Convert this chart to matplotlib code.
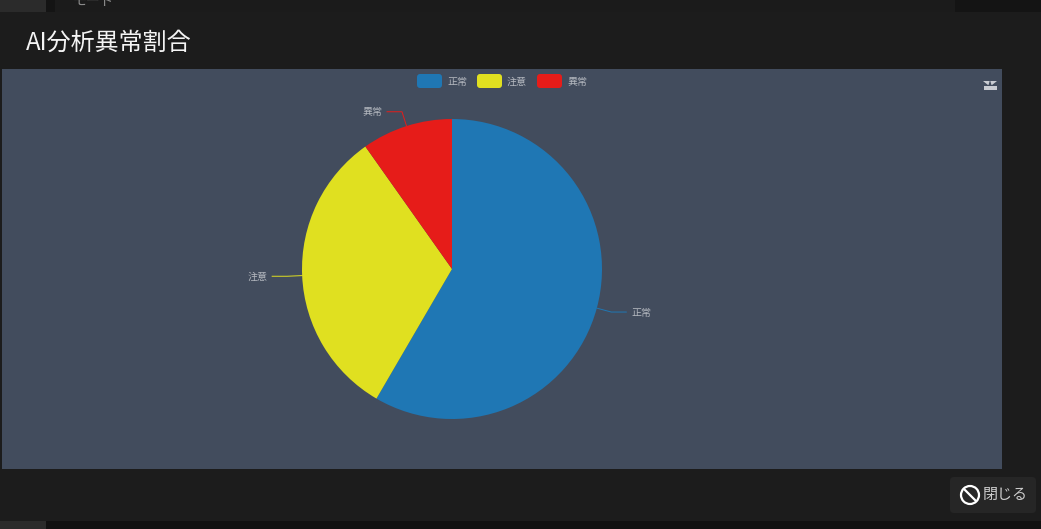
import numpy as np
import matplotlib
matplotlib.use('Agg')
import matplotlib.pyplot as plt
from matplotlib.patches import Rectangle, FancyBboxPatch, Circle

plt.rcParams['font.family'] = ['Noto Sans CJK JP', 'DejaVu Sans']

W, H = 1041, 529

title = 'AI分析異常割合'
categories = ['正常', '注意', '異常']
values = [58.4, 31.8, 9.8]
colors = ['#1f77b4', '#e0e020', '#e61c19']
close_label = '閉じる'

PANEL = '#424c5d'
DARK = '#1c1c1c'
TEXT = '#b4b8bf'


def py(y):
    # pixel row from the top -> axes y
    return H - y


def rect(ax, x0, y0, x1, y1, color, z=0):
    ax.add_patch(Rectangle((x0, py(y1)), x1 - x0, y1 - y0, fc=color, ec='none', zorder=z))


fig = plt.figure(figsize=(W / 100, H / 100), dpi=100, facecolor=DARK)
ax = fig.add_axes([0, 0, 1, 1])
ax.set_xlim(0, W)
ax.set_ylim(0, H)
ax.axis('off')

# page behind the dialog
rect(ax, 0, 0, W, 12, '#141414')
rect(ax, 0, 0, 46, 12, '#2b2b2b')
rect(ax, 55, 0, 955, 12, '#1b1b1b')
rect(ax, 0, 521, W, H, '#111111')
rect(ax, 0, 521, 46, H, '#2b2b2b')
ax.text(72, py(1), 'モード', color='#8a8a8a', fontsize=10, va='center', ha='left', zorder=1, clip_on=True)

# dialog
rect(ax, 0, 12, W, 521, DARK, z=2)
rect(ax, 2, 69, 1002, 469, PANEL, z=3)
ax.text(26, py(43), title, color='#f4f4f4', fontsize=17.3, va='center', ha='left', zorder=4)

# pie
cx, cy, r = 452, 269, 150
ax.pie(values, colors=colors, startangle=90, counterclock=False, center=(cx, py(cy)), radius=r,
       frame=True, wedgeprops={'zorder': 5, 'linewidth': 0})
ax.set_xlim(0, W)
ax.set_ylim(0, H)
ax.set_aspect('auto')
ax.axis('off')

# leader lines and slice labels
total = sum(values)
start = 0
for name, v, c in zip(categories, values, colors):
    a = np.radians((start + v / 2) / total * 360)
    start += v
    sx, sy = np.sin(a), np.cos(a)
    side = 1 if sx > 0 else -1
    x1, y1 = cx + r * sx, py(cy) + r * sy
    x2, y2 = cx + (r + 15) * sx, py(cy) + (r + 15) * sy
    x3 = x2 + side * 15
    ax.plot([x1, x2, x3], [y1, y2, y2], color=c, lw=0.7, zorder=6, solid_joinstyle='round')
    ax.text(x3 + side * 5, y2 - 0.5, name, color=TEXT, fontsize=7.2, va='center',
            ha='left' if side > 0 else 'right', zorder=6)

# legend
x = 417
for name, c in zip(categories, colors):
    ax.add_patch(FancyBboxPatch((x, py(88)), 25, 14, boxstyle='round,pad=0,rounding_size=3',
                                fc=c, ec='none', zorder=6))
    ax.text(x + 30, py(81.5), name, color=TEXT, fontsize=7.2, va='center', ha='left', zorder=6)
    x += 60

# save-as-image icon, top right of the chart
ax.fill([983, 997, 992, 988], [py(81), py(81), py(85), py(85)], color='#c9ccd2', lw=0, zorder=6)
ax.fill([988.5, 991.5, 990], [py(85), py(85), py(80)], color=PANEL, lw=0, zorder=7)
rect(ax, 984, 86, 997, 90, '#c9ccd2', z=6)

# close button
ax.add_patch(FancyBboxPatch((950, py(513)), 86, 36, boxstyle='round,pad=0,rounding_size=4',
                            fc='#262626', ec='none', zorder=6))
ax.add_patch(Circle((970, py(495)), 9, fc='none', ec='white', lw=1.6, zorder=7))
ax.plot([964, 976], [py(489), py(501)], color='white', lw=1.6, zorder=7)
ax.text(983, py(495), close_label, color='#cfcfcf', fontsize=10.8, va='center', ha='left', zorder=7)

fig.savefig('out.png', dpi=100, facecolor=fig.get_facecolor())
